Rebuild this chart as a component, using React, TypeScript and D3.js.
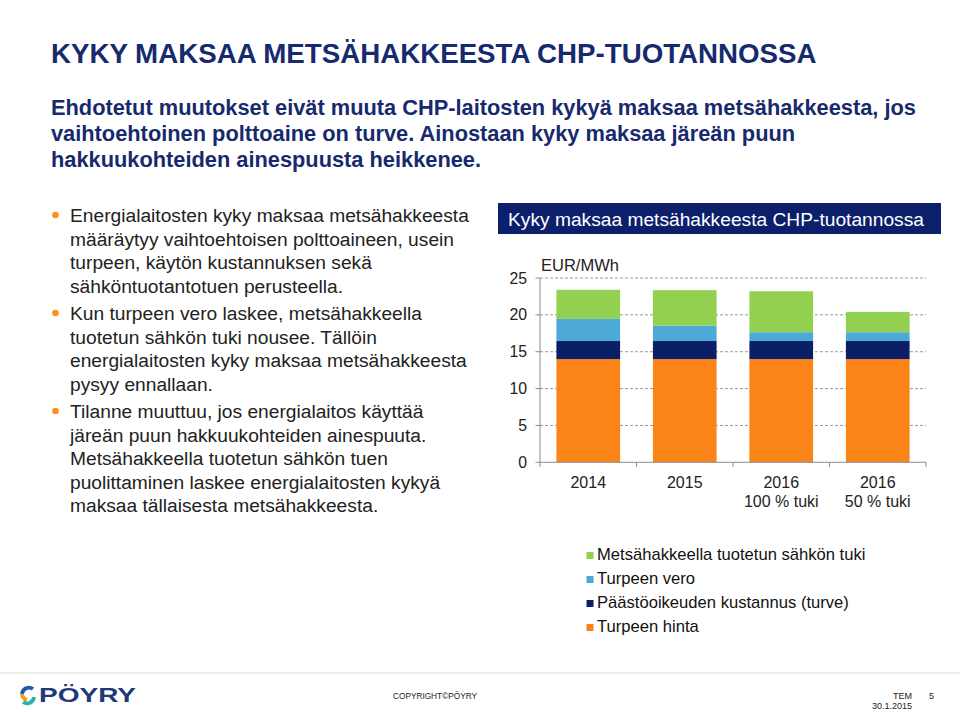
import React from "react";
import * as d3 from "d3";

const categories = ["2014", "2015", "2016|100 % tuki", "2016|50 % tuki"];
const seriesNames = [
  "Turpeen hinta",
  "Päästöoikeuden kustannus (turve)",
  "Turpeen vero",
  "Metsähakkeella tuotetun sähkön tuki",
];
const turpeenHinta = [14.0, 14.0, 14.0, 14.0];
const paastooikeus = [2.45, 2.45, 2.45, 2.45];
const turpeenVero = [3.0, 2.1, 1.2, 1.2];
const tuki = [3.95, 4.8, 5.55, 2.75];
const seriesColors = ["#fb8418", "#0b1f66", "#4da9d6", "#92d050"];
const yTicks = [0, 5, 10, 15, 20, 25];
const legendOrder = [3, 2, 1, 0];

const bullets = [
  [
    "Energialaitosten kyky maksaa metsähakkeesta",
    "määräytyy vaihtoehtoisen polttoaineen, usein",
    "turpeen, käytön kustannuksen sekä",
    "sähköntuotantotuen perusteella.",
  ],
  [
    "Kun turpeen vero laskee, metsähakkeella",
    "tuotetun sähkön tuki nousee. Tällöin",
    "energialaitosten kyky maksaa metsähakkeesta",
    "pysyy ennallaan.",
  ],
  [
    "Tilanne muuttuu, jos energialaitos käyttää",
    "järeän puun hakkuukohteiden ainespuuta.",
    "Metsähakkeella tuotetun sähkön tuen",
    "puolittaminen laskee energialaitosten kykyä",
    "maksaa tällaisesta metsähakkeesta.",
  ],
];

const subtitleLines = [
  "Ehdotetut muutokset eivät muuta CHP-laitosten kykyä maksaa metsähakkeesta, jos",
  "vaihtoehtoinen polttoaine on turve. Ainostaan kyky maksaa järeän puun",
  "hakkuukohteiden ainespuusta heikkenee.",
];

const FONT = "'Liberation Sans', Arial, Helvetica, sans-serif";
const NAVY = "#172a6e";

export default function App() {
  const x = d3
    .scaleBand<string>()
    .domain(categories)
    .range([540, 926])
    .paddingInner(0.34)
    .paddingOuter(0.17);
  const y = d3.scaleLinear().domain([0, 25]).range([462.3, 278]);

  const table = categories.map((c, i) => ({
    cat: c,
    s0: turpeenHinta[i],
    s1: paastooikeus[i],
    s2: turpeenVero[i],
    s3: tuki[i],
  }));
  const stack = d3.stack<any>().keys(["s0", "s1", "s2", "s3"])(table);

  const step = x.step();
  const boundaries = d3.range(categories.length + 1).map((i) => 540 + i * step);

  const lineH = 23.5;
  let cursor = 222;
  const bulletLayout = bullets.map((lines) => {
    const start = cursor;
    cursor += lines.length * lineH + 4;
    return { lines, start };
  });

  return (
    <svg
      width={960}
      height={712}
      style={{ position: "absolute", left: 0, top: 0, background: "#fff" }}
      fontFamily={FONT}
    >
      <rect x={0} y={0} width={960} height={712} fill="#fff" />
      {/* Title */}
      <text x={51} y={63} fontSize={27.7} fontWeight="bold" fill={NAVY}>
        KYKY MAKSAA METSÄHAKKEESTA CHP-TUOTANNOSSA
      </text>
      {subtitleLines.map((l, i) => (
        <text key={i} x={51} y={115 + i * 26} fontSize={21.8} fontWeight="bold" fill={NAVY}>
          {l}
        </text>
      ))}

      {/* Bullets */}
      {bulletLayout.map((b, bi) => (
        <g key={bi}>
          <circle cx={55.5} cy={b.start - 7} r={3.3} fill="#f7941d" />
          {b.lines.map((l, li) => (
            <text key={li} x={70} y={b.start + li * lineH} fontSize={19.2} fill="#222">
              {l}
            </text>
          ))}
        </g>
      ))}

      {/* Chart title box */}
      <rect x={498} y={203} width={443} height={31} fill="#0b1f6b" />
      <text x={508} y={225.5} fontSize={19.2} fill="#fff">
        Kyky maksaa metsähakkeesta CHP-tuotannossa
      </text>

      {/* Unit */}
      <text x={541} y={271} fontSize={16.5} fill="#222">
        EUR/MWh
      </text>

      {/* Gridlines */}
      {yTicks.slice(1).map((t) => (
        <line
          key={t}
          x1={540}
          x2={926}
          y1={y(t)}
          y2={y(t)}
          stroke="#9a9a9a"
          strokeWidth={1}
          strokeDasharray="3,2"
        />
      ))}
      {/* Y axis */}
      <line x1={540} x2={540} y1={y(25)} y2={y(0)} stroke="#8c8c8c" />
      {yTicks.map((t) => (
        <g key={t}>
          <line x1={535.5} x2={540} y1={y(t)} y2={y(t)} stroke="#8c8c8c" />
          <text x={527} y={y(t) + 5.6} fontSize={15.8} textAnchor="end" fill="#222">
            {t}
          </text>
        </g>
      ))}

      {/* Bars */}
      {stack.map((layer, si) => (
        <g key={si} fill={seriesColors[si]}>
          {layer.map((d, i) => (
            <rect
              key={i}
              x={x(categories[i])!}
              width={x.bandwidth()}
              y={y(d[1])}
              height={y(d[0]) - y(d[1])}
            />
          ))}
        </g>
      ))}

      {/* X axis */}
      <line x1={540} x2={926} y1={y(0)} y2={y(0)} stroke="#8c8c8c" />
      {boundaries.map((b, i) => (
        <line key={i} x1={b} x2={b} y1={y(0)} y2={y(0) + 4.5} stroke="#8c8c8c" />
      ))}
      {categories.map((c) => {
        const parts = c.split("|");
        const cx = x(c)! + x.bandwidth() / 2;
        return (
          <g key={c}>
            {parts.map((p, pi) => (
              <text key={pi} x={cx} y={487.5 + pi * 19} fontSize={16} textAnchor="middle" fill="#222">
                {p}
              </text>
            ))}
          </g>
        );
      })}

      {/* Legend */}
      {legendOrder.map((si, i) => (
        <g key={si}>
          <rect x={586.5} y={552 + i * 24} width={7} height={7} fill={seriesColors[si]} />
          <text x={597} y={560 + i * 24} fontSize={16.6} fill="#111">
            {seriesNames[si]}
          </text>
        </g>
      ))}

      {/* Footer */}
      <line x1={0} x2={960} y1={673} y2={673} stroke="#d9d9d9" strokeWidth={1} />
      <g>
        <path d="M33,689 A7,7 0 0 0 22,694" fill="none" stroke="#1e5aa8" strokeWidth={3.8} />
        <path d="M22,694 A7,7 0 0 0 27,700" fill="none" stroke="#f39a1e" strokeWidth={3.8} />
        <path d="M23,702 A7,7 0 0 0 34,697" fill="none" stroke="#2bb3a3" strokeWidth={3.8} />
        <text x={39} y={702} fontSize={19.5} fontWeight="bold" fill="#1e3a78" textLength={97} lengthAdjust="spacingAndGlyphs">
          PÖYRY
        </text>
      </g>
      <text x={393} y={699} fontSize={9} fill="#222" textLength={84} lengthAdjust="spacingAndGlyphs">
        COPYRIGHT©PÖYRY
      </text>
      <text x={912} y={699} fontSize={9} textAnchor="end" fill="#222">
        TEM
      </text>
      <text x={929} y={699} fontSize={9} fill="#222">
        5
      </text>
      <text x={912} y={709} fontSize={9} textAnchor="end" fill="#222">
        30.1.2015
      </text>
    </svg>
  );
}
